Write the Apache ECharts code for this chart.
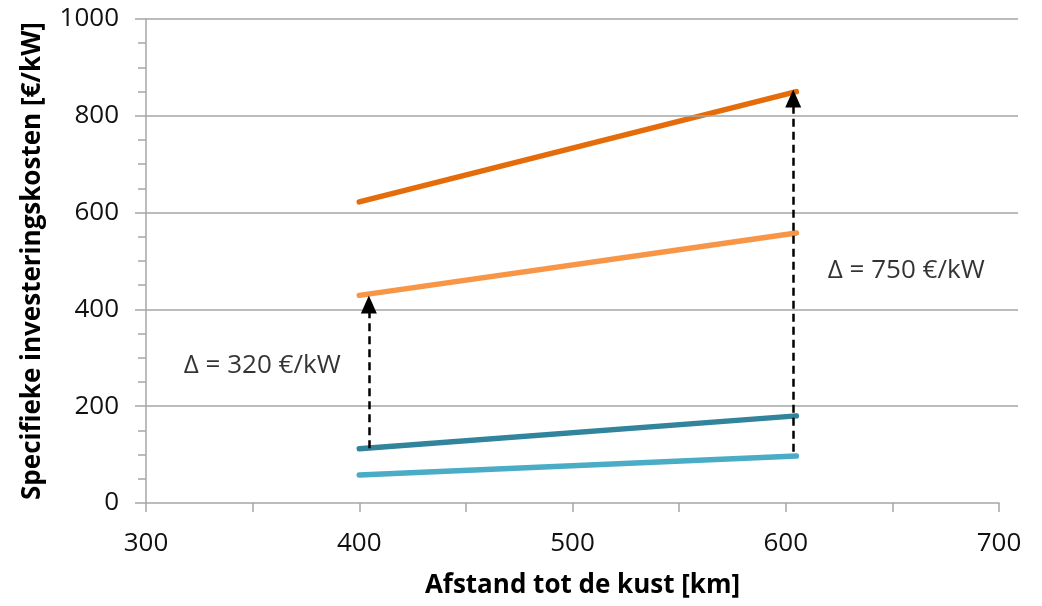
<!DOCTYPE html>
<html><head><meta charset="utf-8">
<script src="https://cdn.jsdelivr.net/npm/echarts@6/dist/echarts.min.js"></script>
<style>html,body{margin:0;padding:0;background:#fff}#c{width:1042px;height:606px}</style>
</head><body><div id="c"></div>
<script>
const xValues = [400, 605];
const darkOrange = [622, 850];
const lightOrange = [429, 558];
const darkTeal = [112, 180];
const lightBlue = [58, 97];
const arrowLeft = [[404.5, 113], [404.5, 410]];
const arrowRight = [[603.5, 106], [603.5, 836]];
const labelLeft = {text: 'Δ = 320 €/kW', x: 354.5, y: 284};
const labelRight = {text: 'Δ = 750 €/kW', x: 656.5, y: 480};
const xTicks = [300, 400, 500, 600, 700];
const yTicks = [0, 200, 400, 600, 800, 1000];
const gridValues = [200, 400, 600, 800, 1000];

const FONT = '"Open Sans", "Noto Sans", sans-serif';
const AX = '#a6a6a6';
const pairs = a => xValues.map((x, i) => [x, a[i]]);
const chart = echarts.init(document.getElementById('c'), null, {renderer: 'canvas'});

function lineSeries(name, vals, color) {
  return {name, type: 'line', xAxisIndex: 1, yAxisIndex: 1, data: pairs(vals), symbol: 'none',
    lineStyle: {color, width: 5.5, cap: 'round'}, z: 3, animation: false};
}
function arrow(pts) {
  return {type: 'line', xAxisIndex: 1, yAxisIndex: 1, data: [], symbol: 'none', animation: false,
    markLine: {silent: true, animation: false, symbol: ['none', 'triangle'], symbolSize: [16, 18],
      label: {show: false},
      lineStyle: {color: '#000', width: 2.5, type: [8, 5]},
      data: [[{coord: pts[0]}, {coord: pts[1]}]]}, z: 4};
}
function note(l) {
  return {type: 'scatter', xAxisIndex: 1, yAxisIndex: 1, data: [[l.x, l.y]], symbolSize: 0, animation: false, silent: true,
    itemStyle: {color: '#000'},
    label: {show: true, position: 'inside', formatter: l.text, color: '#000', textBorderWidth: 0,
      fontSize: 26, fontFamily: FONT}};
}

chart.setOption({
  animation: false,
  grid: [
    {left: 146, right: 24, top: 19, bottom: 103},
    {left: 146, right: 43, top: 19, bottom: 103}
  ],
  xAxis: [
    {gridIndex: 0, type: 'value', min: 300, max: 709, show: false},
    {gridIndex: 1, type: 'value', min: 300, max: 700, interval: 100,
      axisLine: {show: true, lineStyle: {color: AX, width: 1.5}},
      axisTick: {show: true, length: 9, lineStyle: {color: AX, width: 1.5}},
      minorTick: {show: true, splitNumber: 2, length: 9, lineStyle: {color: AX, width: 1.5}},
      splitLine: {show: false},
      axisLabel: {color: '#111', fontSize: 26, fontFamily: FONT, margin: 28,
        formatter: v => xTicks.includes(v) ? String(v) : ''},
      name: 'Afstand tot de kust [km]', nameLocation: 'middle', nameGap: 70,
      nameTextStyle: {color: '#000', fontSize: 26, fontWeight: 'bold', fontFamily: FONT, padding: [0, 0, 0, 20]}}
  ],
  yAxis: [
    {gridIndex: 0, type: 'value', min: 0, max: 1000, show: false},
    {gridIndex: 1, type: 'value', min: 0, max: 1000, interval: 200,
      axisLine: {show: true, lineStyle: {color: AX, width: 1.5}},
      axisTick: {show: true, length: 11, lineStyle: {color: AX, width: 1.5}},
      minorTick: {show: true, splitNumber: 4, length: 8, lineStyle: {color: AX, width: 1.5}},
      splitLine: {show: false},
      axisLabel: {color: '#111', fontSize: 26, fontFamily: FONT, margin: 27,
        formatter: v => yTicks.includes(v) ? String(v) : ''},
      name: 'Specifieke investeringskosten [€/kW]', nameLocation: 'middle', nameGap: 100, nameRotate: 90,
      nameTextStyle: {color: '#000', fontSize: 26, fontWeight: 'bold', fontFamily: FONT}}
  ],
  series: [
    {type: 'line', xAxisIndex: 0, yAxisIndex: 0, data: [], symbol: 'none', animation: false, z: 1,
      markLine: {silent: true, animation: false, symbol: 'none', label: {show: false},
        lineStyle: {color: AX, width: 1.5, type: 'solid'},
        data: gridValues.map(v => ({yAxis: v}))}},
    lineSeries('lichtblauw', lightBlue, '#4BACC6'),
    lineSeries('donkerteal', darkTeal, '#31849B'),
    lineSeries('lichtoranje', lightOrange, '#F79646'),
    lineSeries('donkeroranje', darkOrange, '#E46C0A'),
    arrow(arrowLeft),
    arrow(arrowRight),
    note(labelLeft),
    note(labelRight)
  ]
});
</script></body></html>
